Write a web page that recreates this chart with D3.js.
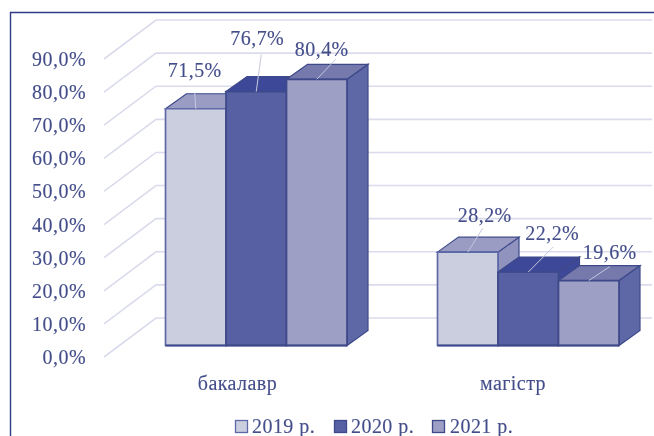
<!DOCTYPE html>
<html><head><meta charset="utf-8">
<script src="https://cdn.jsdelivr.net/npm/d3@7/dist/d3.min.js"></script>
<style>html,body{margin:0;padding:0;background:#fff}svg{display:block}
text{font-family:"Liberation Serif",serif;fill:#434d8a;stroke:#434d8a;stroke-width:.12px;font-size:20px;letter-spacing:.45px}</style>
</head><body><div id="c"></div>
<script>
const categories = ["бакалавр", "магістр"];
const seriesNames = ["2019 р.", "2020 р.", "2021 р."];
const values2019 = [71.5, 28.2];
const values2020 = [76.7, 22.2];
const values2021 = [80.4, 19.6];
const valueLabels2019 = ["71,5%", "28,2%"];
const valueLabels2020 = ["76,7%", "22,2%"];
const valueLabels2021 = ["80,4%", "19,6%"];
const ticks = [0,10,20,30,40,50,60,70,80,90];
const tickLabels = ["0,0%","10,0%","20,0%","30,0%","40,0%","50,0%","60,0%","70,0%","80,0%","90,0%"];

const W=654,H=436;
const svg=d3.select("#c").append("svg").attr("width",W).attr("height",H);
svg.append("defs").append("filter").attr("id","soft").attr("x","-5%").attr("y","-5%").attr("width","110%").attr("height","110%")
  .append("feGaussianBlur").attr("stdDeviation",0.5);
const g=svg.append("g").attr("filter","url(#soft)");

const y=d3.scaleLinear().domain([0,90]).range([345.5,47.5]);
const cx=[165.5,437.5];
const bw=60.5, dx=21, dy=15;
const wallF=11.5, wallB=-27.5, wallL=104, wallR=156;

g.append("path").attr("d",`M10.5 ${H}V12.5H656`).attr("fill","none").attr("stroke","#2f3b86").attr("stroke-width",1.4);

ticks.forEach(t=>{
  const yy=y(t);
  g.append("path").attr("d",`M${wallL} ${yy+wallF}L${wallR} ${yy+wallB}H${652}`).attr("fill","none").attr("stroke","#dadbec").attr("stroke-width",1.6);
});
g.selectAll(".tick").data(ticks).join("text").attr("class","tick")
  .attr("x",86).attr("y",t=>y(t)+wallF+7).attr("text-anchor","end").text((t,i)=>tickLabels[i]);

const series=[
 {vals:values2019,labs:valueLabels2019,front:"#cbcede",top:"#9a9cc4",side:"#8f93be",stroke:"#5e69a8"},
 {vals:values2020,labs:valueLabels2020,front:"#5661a3",top:"#3e4a98",side:"#3e4a98",stroke:"#3d4889"},
 {vals:values2021,labs:valueLabels2021,front:"#9d9fc5",top:"#7479ac",side:"#5f68a6",stroke:"#3d4889"}
];
// label anchor and leader line end, relative to each bar's front-top centre
const labelPos=[[[-1,-32],[1,-47],[5,-23]],[[17,-30],[24,-32],[21,-22]]];
const leaderEnd=[[[-1,-16],[5,-37],[19,-20]],[[15,-24],[25,-25],[21,-14]]];
categories.forEach((c,ci)=>{
  const geom=series.map((s,si)=>({l:cx[ci]+si*bw,r:cx[ci]+(si+1)*bw,t:y(s.vals[ci]),b:y(0)}));
  series.forEach((s,si)=>{
    const {r,t,b}=geom[si], l=geom[si].l;
    g.append("path").attr("d",`M${r} ${b}V${t}L${r+dx} ${t-dy}V${b-dy}Z`).attr("fill",s.side).attr("stroke","#3d4889").attr("stroke-width",1.2);
    g.append("path").attr("d",`M${l} ${t}L${l+dx} ${t-dy}H${r+dx}L${r} ${t}Z`).attr("fill",s.top).attr("stroke","#3d4889").attr("stroke-width",1.2);
  });
  series.forEach((s,si)=>{
    const {l,r,t,b}=geom[si];
    g.append("path").attr("d",`M${l} ${b}V${t}H${r}V${b}Z`).attr("fill",s.front).attr("stroke",s.stroke).attr("stroke-width",1.7);
  });
  g.append("path").attr("d",`M${geom[0].l} ${y(0)}H${geom[2].r}`).attr("stroke","#3d4889").attr("stroke-width",1.8);
  series.forEach((s,si)=>{
    const {l,r,t}=geom[si], lx=(l+r)/2;
    g.append("path").attr("d",`M${lx} ${t}L${lx+leaderEnd[ci][si][0]} ${t+leaderEnd[ci][si][1]}`).attr("stroke","#c5c8de").attr("stroke-width",1).attr("fill","none");
    g.append("text").attr("x",lx+labelPos[ci][si][0]).attr("y",t+labelPos[ci][si][1]).attr("text-anchor","middle").text(s.labs[ci]);
  });
});
const catOffset=[72,75.5];
g.selectAll(".cat").data(categories).join("text").attr("class","cat")
  .attr("x",(c,i)=>cx[i]+catOffset[i]).attr("y",390).attr("text-anchor","middle").text(c=>c);

const legX=[235,334,432], legT=[252,351,450];
seriesNames.forEach((n,i)=>{
  const s=series[i];
  g.append("rect").attr("x",legX[i]+.5).attr("y",420.5).attr("width",12).attr("height",12).attr("fill",s.front).attr("stroke",s.stroke).attr("stroke-width",1.3);
  g.append("text").attr("x",legT[i]).attr("y",433).text(n);
});
</script></body></html>
